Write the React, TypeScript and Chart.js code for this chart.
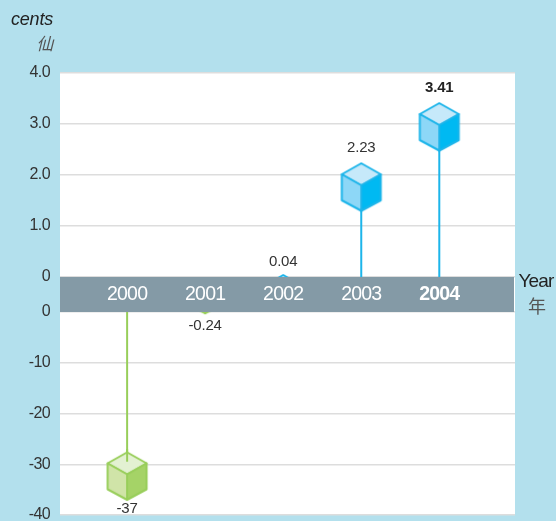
import React, { useEffect, useRef } from "react";
import { Chart, registerables } from "chart.js";

Chart.register(...registerables);

const years = [2000, 2001, 2002, 2003, 2004];
const values = [-37, -0.24, 0.04, 2.23, 3.41];
const valueLabels = ["-37", "-0.24", "0.04", "2.23", "3.41"];
const highlightYear = 2004;
const stemOverlapEnd2000 = -29.5;
const upperTicksMax = 4;
const lowerTicksMin = -40;

const FONT = '"Liberation Sans Narrow", "Liberation Sans", sans-serif';
const BG = "#B3E0ED";
const BAND = "#849AA6";
const GRID = "#DDDDDD";
const TEXT = "#333333";
const BLUE = { line: "#1DB5EA", top: "#C6E9FA", left: "#8DD7F7", right: "#00B9F2" };
const GREEN = { line: "#98CE5A", top: "#E3F1D2", left: "#D0E4A8", right: "#A5D367" };

type Palette = typeof BLUE;

function makeCube(p: Palette, anchorBottom: boolean) {
  const w = 39;
  const h = 47.5;
  const cv = document.createElement("canvas");
  cv.width = 44;
  cv.height = 100;
  const c = cv.getContext("2d")!;
  const cx = 22;
  const y0 = anchorBottom ? 50 - h : 50;
  const P = (dx: number, dy: number): [number, number] => [cx + dx, y0 + dy];
  const poly = (pts: [number, number][], fill: string) => {
    c.beginPath();
    pts.forEach((q, i) => (i ? c.lineTo(q[0], q[1]) : c.moveTo(q[0], q[1])));
    c.closePath();
    c.fillStyle = fill;
    c.fill();
    c.strokeStyle = p.line;
    c.lineWidth = 2;
    c.lineJoin = "round";
    c.stroke();
  };
  const hw = w / 2;
  poly([P(0, 0), P(hw, 11), P(0, 22), P(-hw, 11)], p.top);
  poly([P(-hw, 11), P(0, 22), P(0, h), P(-hw, 37)], p.left);
  poly([P(hw, 11), P(0, 22), P(0, h), P(hw, 37)], p.right);
  return cv;
}

export default function App() {
  const ref = useRef<HTMLCanvasElement>(null);
  useEffect(() => {
    const blueCube = makeCube(BLUE, false);
    const greenCube = makeCube(GREEN, true);

    const datasets: any[] = years.map((yr, i) => {
      const neg = values[i] < 0;
      return {
        type: "scatter",
        showLine: true,
        yAxisID: neg ? "yLow" : "yHigh",
        data: [
          { x: yr, y: values[i] },
          { x: yr, y: 0 },
        ],
        borderColor: neg ? GREEN.line : BLUE.line,
        borderWidth: 2,
        pointRadius: [22, 0],
        pointHoverRadius: [22, 0],
        pointStyle: neg ? greenCube : blueCube,
        clip: 0,
      };
    });
    // short part of the 2000 stem that shows over the cube's top face
    datasets.unshift({
      type: "scatter",
      showLine: true,
      yAxisID: "yLow",
      data: [
        { x: years[0], y: stemOverlapEnd2000 },
        { x: years[0], y: -27 },
      ],
      borderColor: GREEN.line,
      borderWidth: 2,
      pointRadius: 0,
      clip: 0,
    });

    const backdrop = {
      id: "backdrop",
      beforeDraw(chart: any) {
        const { ctx, chartArea: a } = chart;
        ctx.save();
        ctx.fillStyle = BG;
        ctx.fillRect(0, 0, chart.width, chart.height);
        ctx.fillStyle = "#FFFFFF";
        ctx.fillRect(a.left, a.top, a.right - a.left, a.bottom - a.top);
        ctx.restore();
        ctx.letterSpacing = "-0.6px";
      },
      afterDatasetsDraw(chart: any) {
        const { ctx, chartArea: a, scales } = chart;
        const b = scales.band;
        ctx.save();
        ctx.fillStyle = BAND;
        ctx.fillRect(a.left, b.top, a.right - a.left - 1, b.bottom - b.top);

        ctx.textBaseline = "middle";
        ctx.textAlign = "center";
        ctx.letterSpacing = "-0.2px";
        years.forEach((yr, i) => {
          const meta = chart.getDatasetMeta(i + 1);
          const pt = meta.data[0];
          const strong = yr === highlightYear;
          ctx.font = `${strong ? "bold " : ""}15px ${FONT}`;
          ctx.fillStyle = strong ? "#222222" : TEXT;
          const off = values[i] < 0 ? (i === 0 ? 9 : 13) : Math.abs(values[i]) < 1 ? -13 : -15;
          ctx.fillText(valueLabels[i], pt.x, pt.y + off);
        });

        ctx.textAlign = "right";
        ctx.fillStyle = "#222222";
        ctx.font = `italic 18px ${FONT}`;
        ctx.fillText("cents", 53, 20);
        ctx.fillStyle = "#555555";
        ctx.font = `italic 17px "Noto Sans CJK TC"`;
        ctx.fillText("仙", 53, 44);

        ctx.textAlign = "center";
        ctx.fillStyle = "#222222";
        ctx.letterSpacing = "-0.8px";
        ctx.font = `19px ${FONT}`;
        ctx.fillText("Year", 536, 282);
        ctx.letterSpacing = "0px";
        ctx.fillStyle = "#555555";
        ctx.font = `18px "Noto Sans CJK TC"`;
        ctx.fillText("年", 537, 306);
        ctx.restore();
        ctx.letterSpacing = "-0.8px";
      },
      afterDraw(chart: any) {
        chart.ctx.letterSpacing = "0px";
      },
    };

    const fitLeft = (s: any) => {
      s.width = 60;
      s.paddingTop = 0;
      s.paddingBottom = 0;
    };
    const yCommon = {
      position: "left" as const,
      stack: "v",
      border: { display: false },
      grid: { color: GRID, lineWidth: 1.5, drawTicks: false },
      afterFit: fitLeft,
    };
    const tickFont = { family: FONT, size: 16 };

    const chart = new Chart(ref.current!, {
      type: "scatter",
      data: { datasets },
      plugins: [backdrop],
      options: {
        animation: false,
        responsive: false,
        devicePixelRatio: 1,
        layout: { padding: { left: 0, top: 73, right: 41, bottom: 6 } },
        plugins: { legend: { display: false }, tooltip: { enabled: false } },
        scales: {
          x: {
            type: "linear",
            position: { band: 0.5 } as any,
            min: 1999.14,
            max: 2004.97,
            afterFit: (s: any) => {
              s.height = 0;
              s.paddingLeft = 0;
              s.paddingRight = 0;
            },
            border: { display: false },
            grid: { display: false, drawTicks: false },
            ticks: {
              stepSize: 1,
              includeBounds: false,
              z: 1,
              padding: 0,
              crossAlign: "center",
              maxRotation: 0,
              autoSkip: false,
              color: "#FFFFFF",
              font: (c: any) => ({
                family: FONT,
                size: 19.5,
                weight: c.tick && c.tick.value === highlightYear ? "bold" : "normal",
              }),
              callback: (v: any) => String(v),
            },
          },
          yHigh: {
            ...yCommon,
            stackWeight: 204,
            weight: 3,
            min: 0,
            max: upperTicksMax,
            ticks: {
              stepSize: 1,
              padding: 10,
              color: TEXT,
              font: tickFont,
              callback: (v: any) => (v === 0 ? "0" : Number(v).toFixed(1)),
            },
          },
          band: {
            ...yCommon,
            stackWeight: 35,
            weight: 2,
            min: 0,
            max: 1,
            grid: { display: false },
            ticks: { display: false },
          },
          yLow: {
            ...yCommon,
            stackWeight: 203,
            weight: 1,
            min: lowerTicksMin,
            max: 0,
            ticks: { stepSize: 10, padding: 10, color: TEXT, font: tickFont },
          },
        },
      } as any,
    });
    return () => chart.destroy();
  }, []);

  return (
    <div style={{ position: "absolute", left: 0, top: 0, width: 556, height: 521, overflow: "hidden" }}>
      <canvas ref={ref} width={556} height={539} style={{ display: "block" }} />
    </div>
  );
}
